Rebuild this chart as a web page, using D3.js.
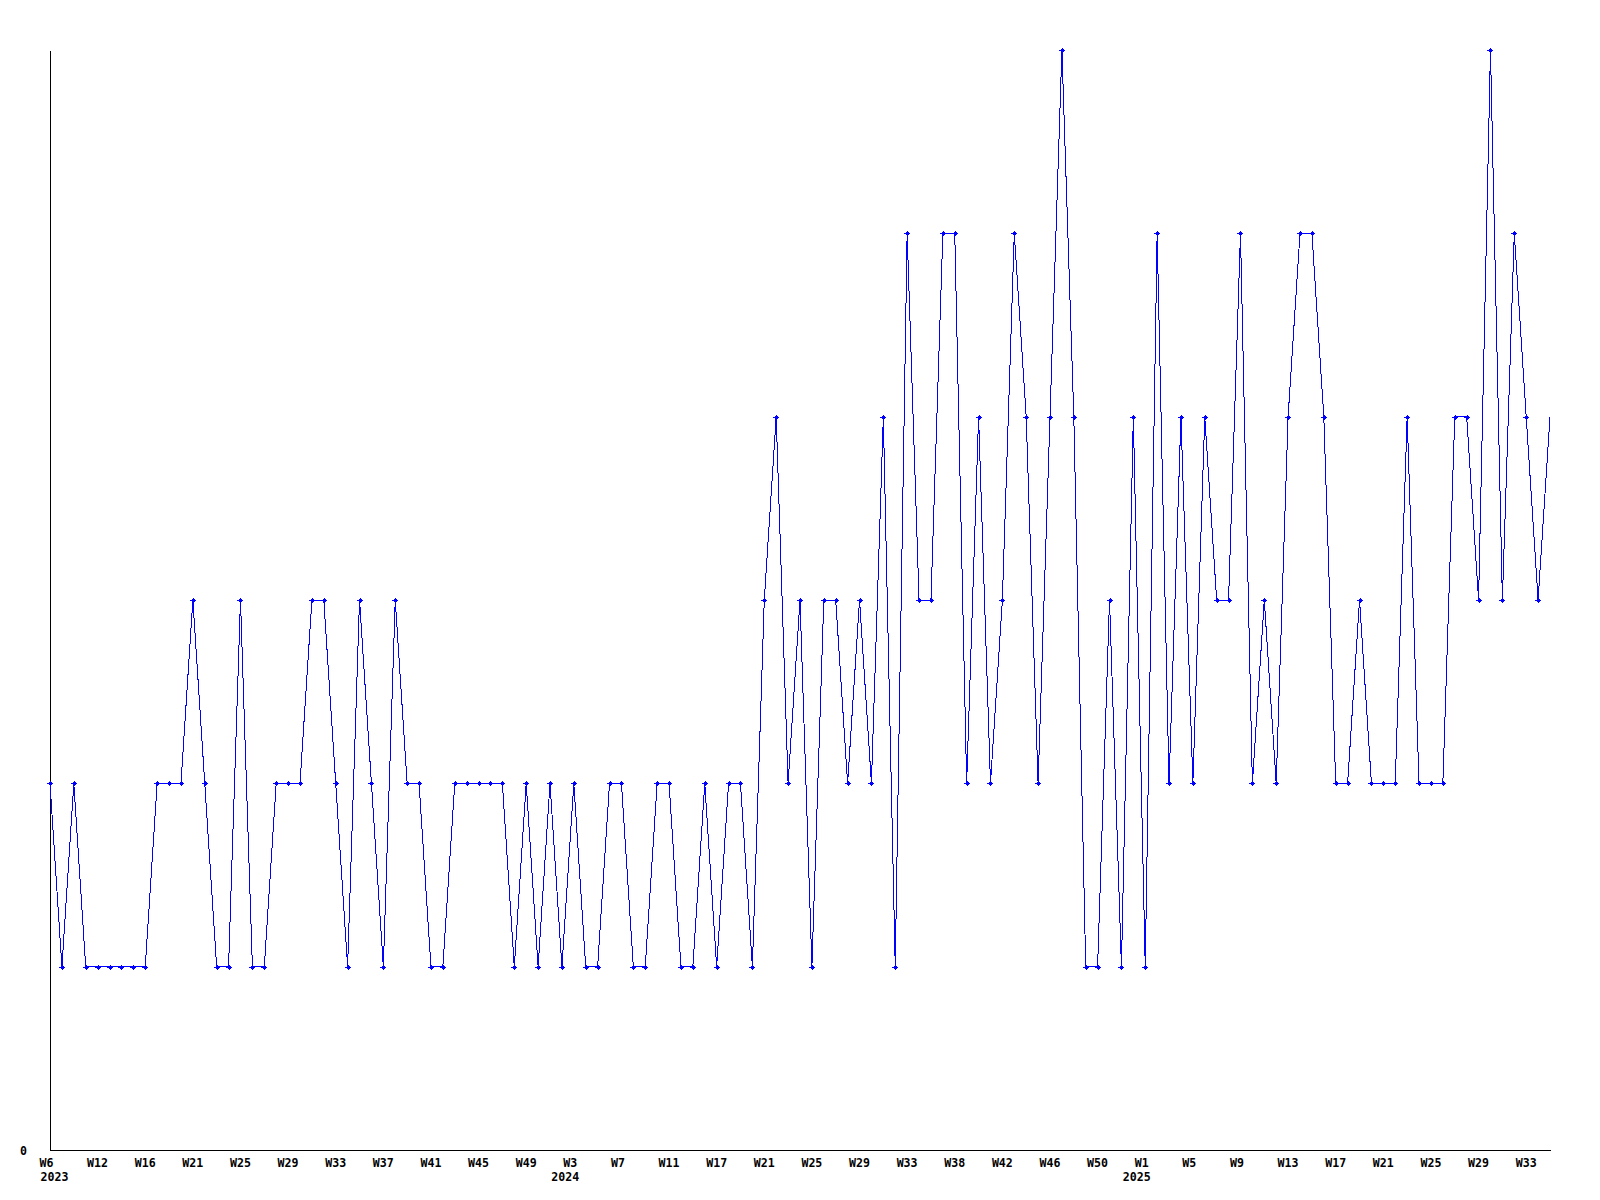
<!DOCTYPE html>
<html>
<head>
<meta charset="utf-8">
<script src="https://cdn.jsdelivr.net/npm/d3@7"></script>
<style>
  html, body { margin: 0; padding: 0; background: #ffffff; }
  svg { display: block; }
  text { font-family: "DejaVu Sans Mono", "Liberation Mono", monospace; font-weight: bold; font-size: 11.6px; fill: #000; }
</style>
</head>
<body>
<svg id="chart" width="1600" height="1200"></svg>
<script>
// Weekly values, one per point (W6 2023 … W35 2025)
const values = [
  2,1,2,1,1,1,1,1,1,2, 2,2,3,2,1,1,3,1,1,2,
  2,2,3,3,2,1,3,2,1,3, 2,2,1,1,2,2,2,2,2,1,
  2,1,2,1,2,1,1,2,2,1, 1,2,2,1,1,2,1,2,2,1,
  3,4,2,3,1,3,3,2,3,2, 4,1,5,3,3,5,5,2,4,2,
  3,5,4,2,4,6,4,1,1,3, 1,4,1,5,2,4,2,4,3,3,
  5,2,3,2,4,5,5,4,2,2, 3,2,2,2,4,2,2,2,4,4,
  3,6,3,5,4,3,4
];
// Tick labels shown every 4th point
const tickLabels = [
  "W6","W12","W16","W21","W25","W29","W33","W37","W41","W45","W49",
  "W3","W7","W11","W17","W21","W25","W29","W33","W38","W42","W46","W50",
  "W1","W5","W9","W13","W17","W21","W25","W29","W33"
];
const tickYears = [
  "2023","","","","","","","","","","",
  "2024","","","","","","","","","","","",
  "2025","","","","","","","",""
];
const tickStep = 4;
const yTicks = [0];
const yMax = 6;

const svg = d3.select("#chart");
const mLeft = 50, mRight = 1550, mTop = 50, mBottom = 1150;

const x = d3.scalePoint()
  .domain(d3.range(values.length))
  .range([mLeft, mRight]);
const y = d3.scaleLinear()
  .domain([0, yMax])
  .range([mBottom, mTop]);

// Axes
const xAxis = d3.axisBottom(x)
  .tickValues(tickLabels.map((_, i) => i * tickStep))
  .tickSize(0)
  .tickSizeOuter(0)
  .tickFormat(d => tickLabels[d / tickStep]);
const gx = svg.append("g").attr("transform", `translate(0,${mBottom})`).call(xAxis);
gx.attr("font-family", null).attr("font-size", null);
gx.select(".domain").attr("stroke", "#000").attr("stroke-width", 1).attr("shape-rendering", "crispEdges");
gx.selectAll(".tick text")
  .attr("text-anchor", "start")
  .attr("x", -11)
  .attr("y", 17)
  .attr("dy", 0);
gx.selectAll(".tick").each(function(d) {
  const yr = tickYears[d / tickStep];
  if (yr) {
    const px = x(d);
    const lx = Math.max(40, px - 23) - px;
    d3.select(this).append("text")
      .attr("x", lx)
      .attr("y", 31)
      .attr("text-anchor", "start")
      .attr("fill", "#000")
      .text(yr);
  }
});

const yAxis = d3.axisLeft(y)
  .tickValues(yTicks)
  .tickSize(0)
  .tickSizeOuter(0)
  .tickFormat(d3.format("d"));
const gy = svg.append("g").attr("transform", `translate(${mLeft},0)`).call(yAxis);
gy.attr("font-family", null).attr("font-size", null);
gy.select(".domain").attr("stroke", "#000").attr("stroke-width", 1).attr("shape-rendering", "crispEdges");
gy.selectAll(".tick text")
  .attr("text-anchor", "start")
  .attr("x", -30)
  .attr("dy", "0.35em");

// Line
const line = d3.line()
  .x((d, i) => x(i))
  .y(d => y(d));
svg.append("path")
  .datum(values)
  .attr("d", line)
  .attr("fill", "none")
  .attr("stroke", "#0000ff")
  .attr("stroke-width", 1)
  .attr("shape-rendering", "crispEdges");

// Markers (all points except the last, still-open week)
const marks = svg.append("g").attr("fill", "#0000ff").attr("shape-rendering", "crispEdges");
const pts = values.slice(0, values.length - 1);
const mg = marks.selectAll("g.m").data(pts).join("g")
  .attr("class", "m")
  .attr("transform", (d, i) => `translate(${Math.round(x(i))},${Math.round(y(d))})`);
mg.append("rect").attr("x", -3).attr("y", -0.5).attr("width", 6).attr("height", 1.5);
mg.append("rect").attr("x", -1.5).attr("y", -1.5).attr("width", 3).attr("height", 3);
mg.append("rect").attr("x", -0.5).attr("y", -2.5).attr("width", 1.5).attr("height", 5);
</script>
</body>
</html>
